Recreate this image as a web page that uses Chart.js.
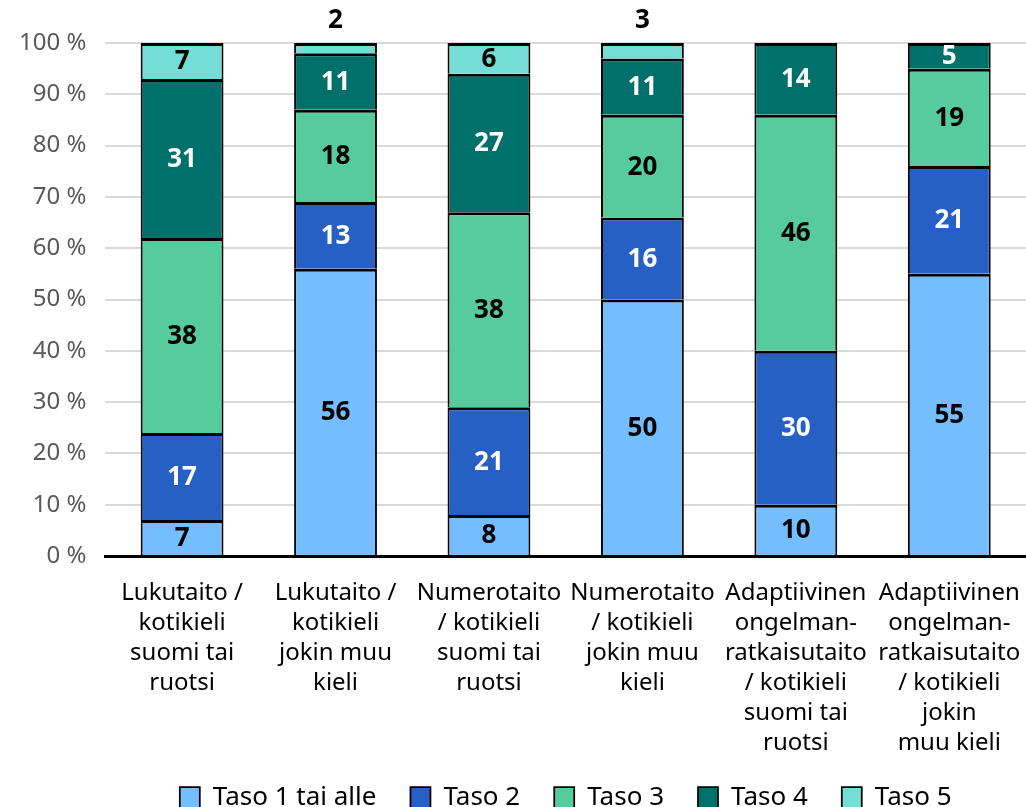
<!DOCTYPE html>
<html>
<head>
<meta charset="utf-8">
<script src="https://cdn.jsdelivr.net/npm/chart.js@4"></script>
<style>
  html, body { margin: 0; padding: 0; background: #fff; }
  #wrap { width: 1026px; height: 807px; }
</style>
</head>
<body>
<div id="wrap"><canvas id="chart"></canvas></div>
<script>
const categories = [
    ['Lukutaito /', 'kotikieli', 'suomi tai', 'ruotsi'],
    ['Lukutaito /', 'kotikieli', 'jokin muu', 'kieli'],
    ['Numerotaito', '/ kotikieli', 'suomi tai', 'ruotsi'],
    ['Numerotaito', '/ kotikieli', 'jokin muu', 'kieli'],
    ['Adaptiivinen', 'ongelman-', 'ratkaisutaito', '/ kotikieli', 'suomi tai', 'ruotsi'],
    ['Adaptiivinen', 'ongelman-', 'ratkaisutaito', '/ kotikieli', 'jokin', 'muu kieli']
];
const seriesNames = ['Taso 1 tai alle', 'Taso 2', 'Taso 3', 'Taso 4', 'Taso 5'];
const taso1 = [7, 56, 8, 50, 10, 55];
const taso2 = [17, 13, 21, 16, 30, 21];
const taso3 = [38, 18, 38, 20, 46, 19];
const taso4 = [31, 11, 27, 11, 14, 5];
const taso5 = [7, 2, 6, 3, 0, 0];
const yTicks = [0, 10, 20, 30, 40, 50, 60, 70, 80, 90, 100];

const colors = ['#74bdff', '#2660c4', '#55cb9e', '#00706b', '#73ddd6'];
const labelColors = ['#000', '#fff', '#000', '#fff', '#000'];
const FONT = '"Noto Sans", sans-serif';

// values drawn inside the bars, small ones above the bar
const valueLabels = {
    id: 'valueLabels',
    afterDatasetsDraw(chart) {
        const ctx = chart.ctx;
        ctx.save();
        ctx.font = 'bold 26px ' + FONT;
        ctx.textAlign = 'center';
        ctx.textBaseline = 'middle';
        chart.data.datasets.forEach((ds, i) => {
            const meta = chart.getDatasetMeta(i);
            meta.data.forEach((bar, j) => {
                const v = ds.data[j];
                if (!v) return;
                if (v < 5) {
                    ctx.fillStyle = '#000';
                    ctx.fillText(v, bar.x, chart.scales.y.getPixelForValue(100) - 22);
                } else {
                    ctx.fillStyle = labelColors[i];
                    ctx.fillText(v, bar.x, (bar.y + bar.base) / 2 + 1);
                }
            });
        });
        ctx.restore();
    }
};

// x labels are allowed to run past the shortened axis box
const unclipLabels = {
    id: 'unclipLabels',
    afterLayout(chart) {
        chart.scales.x.bottom = chart.height;
    }
};

const seriesData = [taso1, taso2, taso3, taso4, taso5];

new Chart(document.getElementById('chart'), {
    type: 'bar',
    data: {
        labels: categories,
        datasets: seriesNames.map((name, i) => ({
            label: name,
            data: seriesData[i],
            backgroundColor: colors[i],
            borderColor: '#000',
            borderWidth: { top: 3, bottom: 0, left: 2, right: 2 },
            borderSkipped: false,
            barPercentage: 0.54,
            categoryPercentage: 1
        }))
    },
    options: {
        responsive: true,
        maintainAspectRatio: false,
        animation: false,
        layout: {
            padding: { top: 43, right: 0, left: 0, bottom: -14 }
        },
        scales: {
            x: {
                stacked: true,
                grid: { display: false },
                border: { display: true, color: '#000', width: 3 },
                ticks: {
                    color: '#000',
                    font: { family: FONT, size: 24, lineHeight: 1.25 },
                    padding: 14,
                    maxRotation: 0,
                    autoSkip: false
                },
                // let the last label hang to the edge and the legend sit close under the labels
                afterFit: axis => {
                    axis.paddingRight = 0;
                    axis.height = 195;
                }
            },
            y: {
                stacked: true,
                min: 0,
                max: 100,
                afterBuildTicks: axis => {
                    axis.ticks = yTicks.map(v => ({ value: v }));
                },
                border: { display: false },
                grid: { color: '#d9d9d9', lineWidth: 2, drawTicks: false },
                ticks: {
                    color: '#595959',
                    font: { family: FONT, size: 24 },
                    padding: 19,
                    callback: v => v + ' %'
                }
            }
        },
        plugins: {
            legend: {
                position: 'bottom',
                fullSize: false,
                labels: {
                    color: '#000',
                    font: { family: FONT, size: 26, lineHeight: 1 },
                    boxWidth: 20,
                    boxHeight: 22,
                    padding: 34
                }
            },
            tooltip: { enabled: false }
        }
    },
    plugins: [valueLabels, unclipLabels]
});
</script>
</body>
</html>
